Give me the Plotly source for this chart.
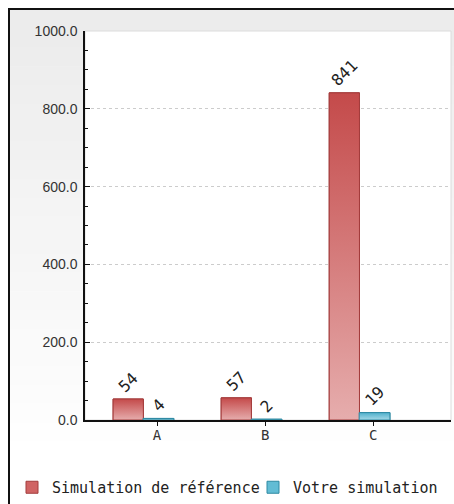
import plotly.graph_objects as go

categories = ["A", "B", "C"]
reference_values = [54, 57, 841]
your_values = [4, 2, 19]
series_names = ["Simulation de référence", "Votre simulation"]
y_tick_values = [0, 200, 400, 600, 800, 1000]
y_tick_labels = ["0.0", "200.0", "400.0", "600.0", "800.0", "1000.0"]

W, H = 454, 504
plot_left, plot_right, plot_top, plot_bottom = 85, 451, 31, 420  # page px
L = plot_left
R = W - plot_right
T = plot_top
B = H - plot_bottom
PW, PH = W - L - R, H - T - B


def px_x(p):
    return (p - L) / PW


def px_y(p):
    return (H - B - p) / PH


x_pos = list(range(len(categories)))

styles = [
    dict(off=-0.407, w=0.28, solid="#d06464", edge="#a33c3c",
         grad=[[0, "#e6adad"], [1, "#c44a4a"]]),
    dict(off=-0.13, w=0.285, solid="#62bcd4", edge="#2f8aa3",
         grad=[[0, "#a6d9e7"], [1, "#4fb0cc"]]),
]

fig = go.Figure()
for name, vals, st in zip(series_names, [reference_values, your_values], styles):
    fig.add_trace(go.Bar(
        x=x_pos, y=vals, name=name,
        text=[str(v) for v in vals], textposition="outside", textangle=-45,
        textfont=dict(family="DejaVu Sans Mono", size=16, color="#222"),
        marker=dict(color=st["solid"], line=dict(color=st["edge"], width=1)),
        width=st["w"], offset=st["off"], cliponaxis=False,
        legend="legend" if name == series_names[0] else "legend2",
    ))
# vertical gradient fill on every bar (same geometry as the bars above)
for vals, st in zip([reference_values, your_values], styles):
    for xp, v in zip(x_pos, vals):
        x0 = xp + st["off"]
        x1 = x0 + st["w"]
        fig.add_trace(go.Scatter(
            x=[x0, x1, x1, x0, x0], y=[0, 0, v, v, 0], mode="lines",
            fill="toself", line=dict(color=st["edge"], width=1),
            fillgradient=dict(type="vertical", colorscale=st["grad"], start=0, stop=v),
            showlegend=False, hoverinfo="skip",
        ))

shapes = []
# soft vertical gray-to-white background gradient
n = 24
top_px, bot_px = 10, 460
for i in range(n):
    y0 = top_px + (bot_px - top_px) * i / n
    y1 = top_px + (bot_px - top_px) * (i + 1) / n
    c = int(236 + (255 - 236) * i / (n - 1))
    shapes.append(dict(type="rect", xref="paper", yref="paper", layer="below",
                       x0=px_x(10), x1=px_x(470), y0=px_y(y1 + 0.5), y1=px_y(y0),
                       fillcolor=f"rgb({c},{c},{c})", line=dict(width=0)))
shapes.append(dict(type="rect", xref="paper", yref="paper", layer="below",
                   x0=0, x1=1, y0=0, y1=1, fillcolor="white",
                   line=dict(color="#dcdcdc", width=1)))
# outer frame
shapes.append(dict(type="rect", xref="paper", yref="paper", layer="above",
                   x0=px_x(9), x1=px_x(480), y0=px_y(530), y1=px_y(9),
                   line=dict(color="#111", width=2), fillcolor="rgba(0,0,0,0)"))

legend_common = dict(orientation="h", xanchor="left", yanchor="top", y=px_y(471),
                     font=dict(family="DejaVu Sans Mono", size=15, color="#222"),
                     bgcolor="rgba(0,0,0,0)", itemclick=False, itemdoubleclick=False)

fig.update_layout(
    width=W, height=H,
    margin=dict(l=L, r=R, t=T, b=B, autoexpand=False),
    paper_bgcolor="white", plot_bgcolor="white",
    barmode="overlay",
    font=dict(family="DejaVu Sans Mono", size=14, color="#222"),
    shapes=shapes,
    showlegend=True,
    legend=dict(x=px_x(12), **legend_common),
    legend2=dict(x=px_x(253), **legend_common),
)
fig.update_xaxes(
    range=[-0.667, 2.72], tickvals=x_pos, ticktext=categories,
    showline=True, linecolor="#111", linewidth=1.5,
    ticks="outside", ticklen=4, tickcolor="#111",
    showgrid=False, zeroline=False, ticklabelstandoff=-3,
    tickfont=dict(family="DejaVu Sans Mono", size=14, color="#333"),
)
fig.update_yaxes(
    range=[0, 1000], tickvals=y_tick_values, ticktext=y_tick_labels,
    showline=True, linecolor="#111", linewidth=1.5,
    ticks="inside", ticklen=5, tickcolor="#111",
    minor=dict(dtick=50, ticks="inside", ticklen=3, tickcolor="#111", showgrid=False),
    showgrid=True, gridcolor="#cccccc", griddash="3px,3px", gridwidth=1,
    zeroline=False, ticklabelstandoff=3,
    tickfont=dict(family="Liberation Sans", size=14, color="#333"),
)

fig.write_html(
    "out.html",
    config={"displayModeBar": False},
    post_script="document.body.style.margin='0px';document.body.style.overflow='hidden';",
)
